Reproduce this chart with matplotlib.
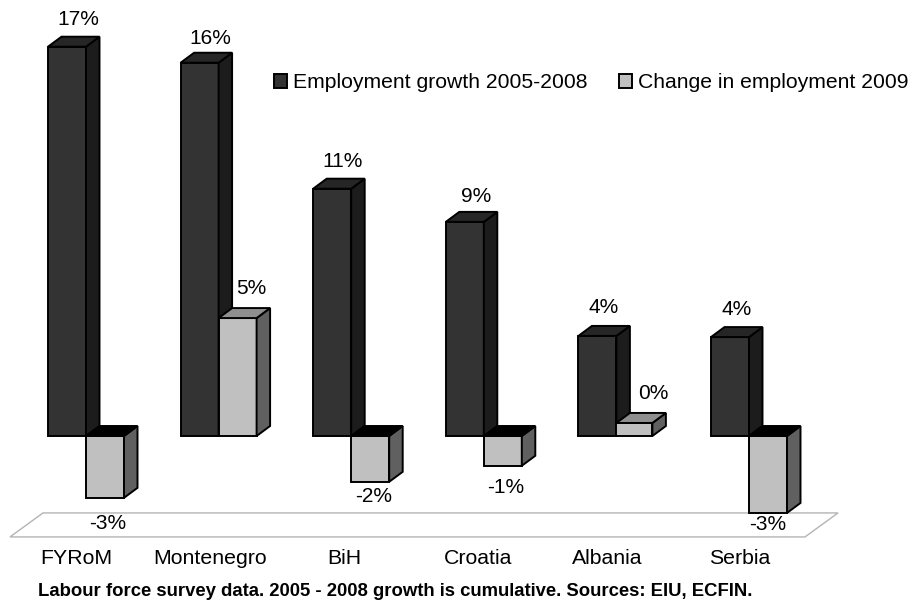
import matplotlib
matplotlib.use("Agg")
import matplotlib.pyplot as plt
from matplotlib.patches import Polygon, Patch

plt.rcParams['font.family'] = ['Liberation Sans', 'DejaVu Sans']

countries = ["FYRoM", "Montenegro", "BiH", "Croatia", "Albania", "Serbia"]
growth_2005_2008 = [17.0, 16.3, 10.8, 9.35, 4.37, 4.32]
change_2009 = [-2.7, 5.15, -2.0, -1.3, 0.57, -3.36]
growth_labels = ["17%", "16%", "11%", "9%", "4%", "4%"]
change_labels = ["-3%", "5%", "-2%", "-1%", "0%", "-3%"]

# pixel scale of the original picture
px_x = 132.6
px_y = 22.9
zero_x = 86
zero_y = 436

bar_w = 38 / px_x
dx = 13.5 / px_x
dy = 10 / px_y
edge = 1.4

# label nudges in pixels, the original placed these by hand
growth_nudge = [(11, 27), (11, 24), (10, 27), (11, 25), (6, 28), (7, 28)]
change_nudge = [(3, 26), (14, 30), (3, 15), (3, 22), (18, 29), (0, 12)]
name_shift = [-10, -9, -7, -6, -9, -9]


def draw_bar(ax, x, w, val, front, side, top):
    ax.bar(x, val, w, align='edge', color=front, edgecolor='black', linewidth=edge, zorder=3)
    # side face
    ax.add_patch(Polygon([(x + w, 0), (x + w + dx, dy), (x + w + dx, val + dy), (x + w, val)],
                         facecolor=side, edgecolor='black', linewidth=edge, zorder=3))
    # top face, for negative bars this sits at the zero line
    t = max(val, 0)
    ax.add_patch(Polygon([(x, t), (x + dx, t + dy), (x + w + dx, t + dy), (x + w, t)],
                         facecolor=top, edgecolor='black', linewidth=edge, zorder=3))


fig = plt.figure(figsize=(9.15, 6.1), dpi=100)
ax = fig.add_axes([0, 0, 1, 1])
ax.set_xlim(-zero_x / px_x, (915 - zero_x) / px_x)
ax.set_ylim(-(610 - zero_y) / px_y, zero_y / px_y)
ax.axis('off')

# floor of the 3d chart
floor_top = min(change_2009)
floor_bot = floor_top - 24 / px_y
ax.add_patch(Polygon([((43 - zero_x) / px_x, floor_top), ((838 - zero_x) / px_x, floor_top),
                      ((805 - zero_x) / px_x, floor_bot), ((10 - zero_x) / px_x, floor_bot)],
                     facecolor='white', edgecolor='#b4b4b4', linewidth=1.0, zorder=1))

for i, name in enumerate(countries):
    g = growth_2005_2008[i]
    c = change_2009[i]
    draw_bar(ax, i - bar_w, bar_w, g, '#333333', '#1c1c1c', '#262626')
    w = bar_w if name != "Albania" else 36 / px_x
    draw_bar(ax, i, w, c, '#c0c0c0', '#606060', '#000000' if c < 0 else '#8f8f8f')

    nx, ny = growth_nudge[i]
    ax.text(i - bar_w / 2 + nx / px_x, g + ny / px_y, growth_labels[i],
            ha='center', va='center', fontsize=15, zorder=5)
    nx, ny = change_nudge[i]
    yy = c + ny / px_y if c > 0 else c - ny / px_y
    ax.text(i + bar_w / 2 + nx / px_x, yy, change_labels[i],
            ha='center', va='center', fontsize=15, zorder=5)
    ax.text(i + name_shift[i] / px_x, -(558 - zero_y) / px_y, name,
            ha='center', va='center', fontsize=15.3)

handles = [Patch(facecolor='#333333', edgecolor='black', linewidth=edge),
           Patch(facecolor='#c0c0c0', edgecolor='black', linewidth=edge)]
fig.legend(handles, ["Employment growth 2005-2008", "Change in employment 2009"],
           ncol=2, frameon=False, fontsize=15.2, handlelength=0.62, handleheight=0.62,
           handletextpad=0.28, columnspacing=1.47, borderpad=0, borderaxespad=0,
           loc='center left', bbox_to_anchor=(274 / 915, 1 - 83 / 610))

fig.text(395 / 915, 1 - 591 / 610,
         "Labour force survey data. 2005 - 2008 growth is cumulative. Sources: EIU, ECFIN.",
         ha='center', va='center', fontsize=13.3, fontweight='bold')

plt.savefig('out.png', dpi=100)
